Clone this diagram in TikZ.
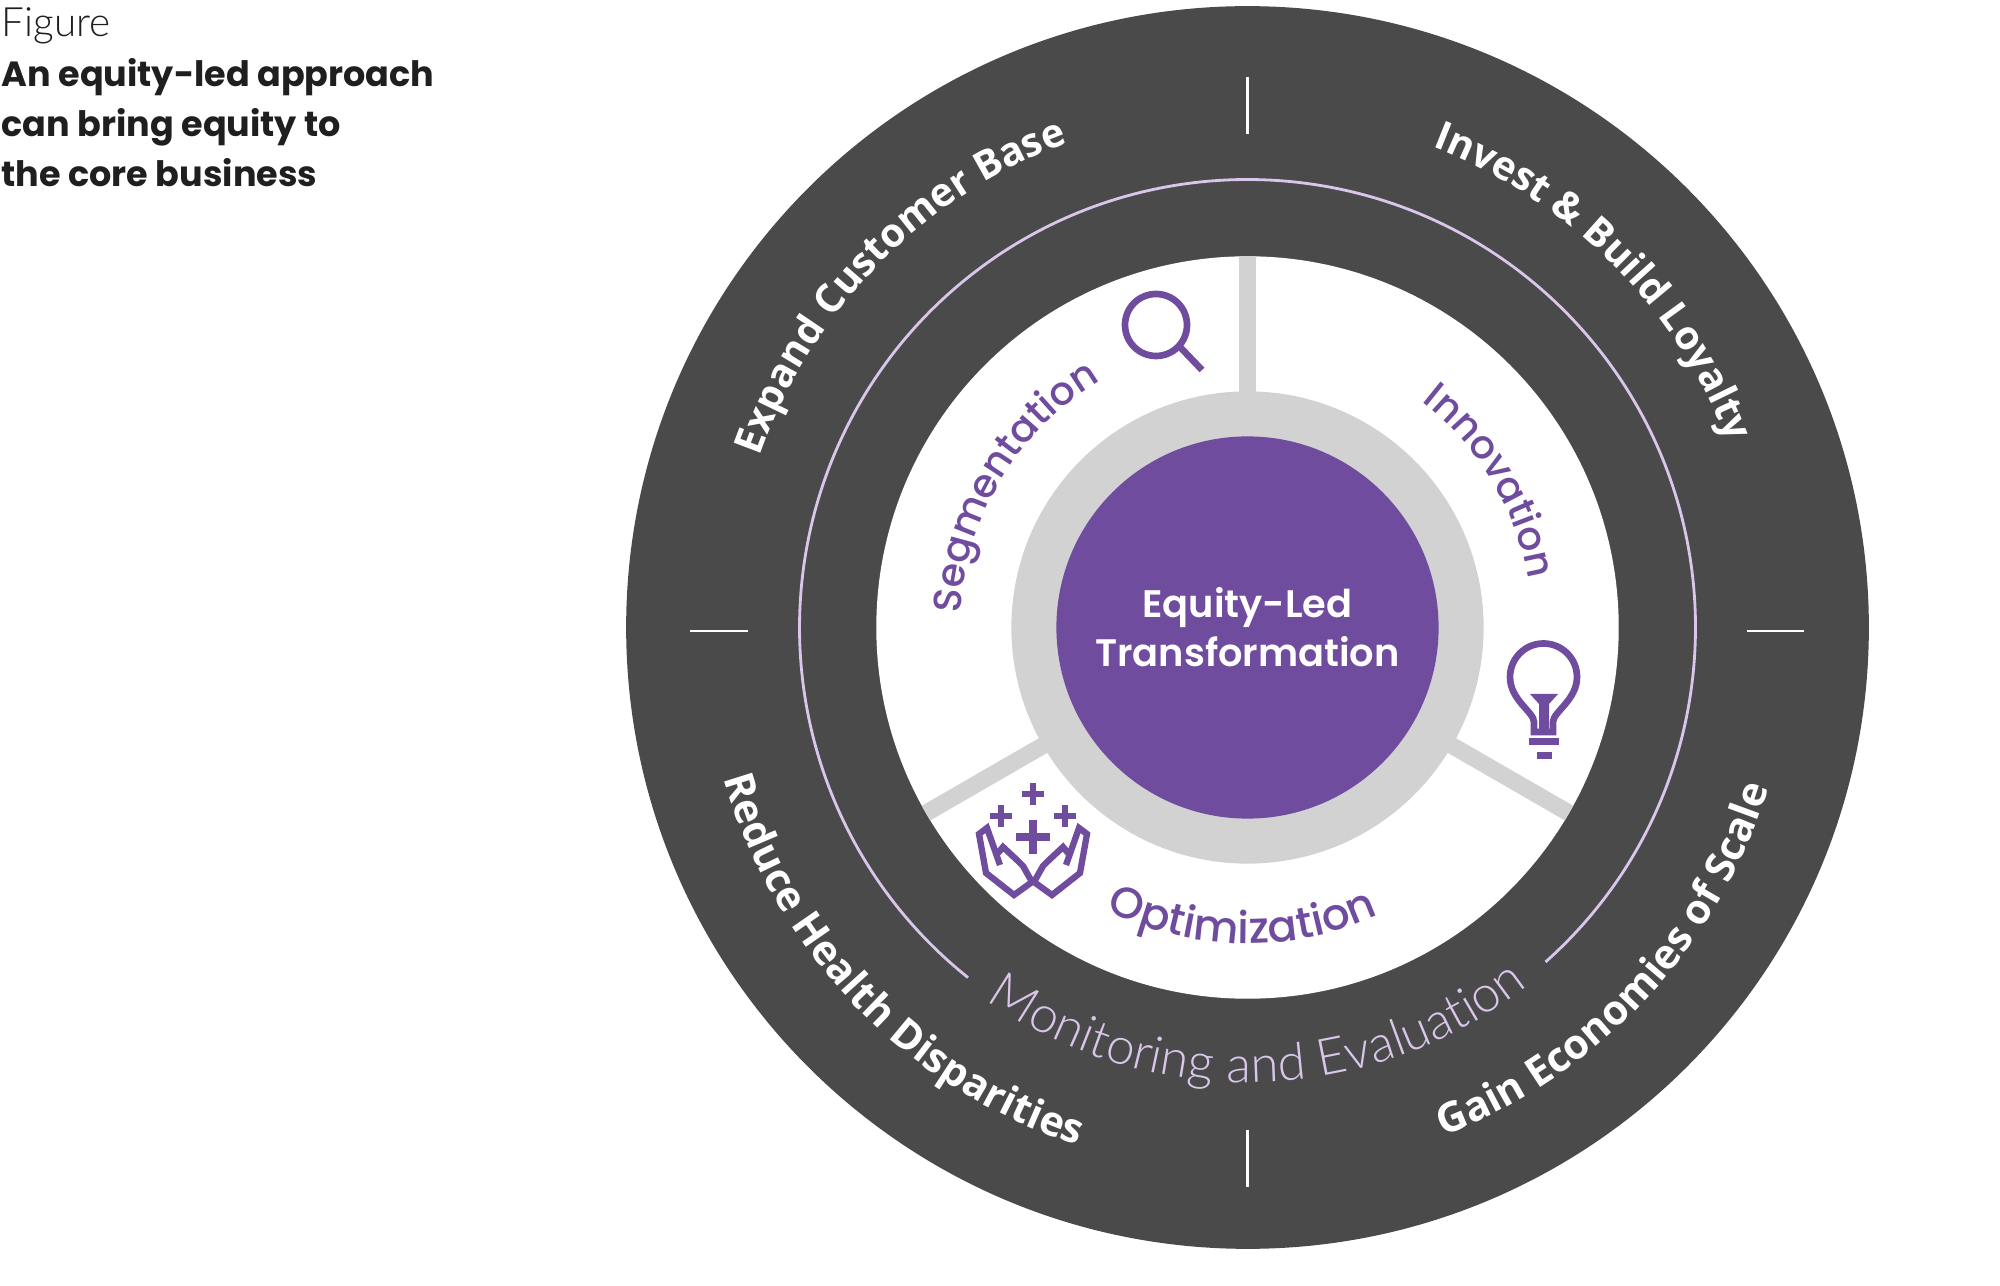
\documentclass[tikz,border=0pt]{standalone}
\usepackage{fontspec}
\setmainfont{Open Sans}
\newfontfamily\lightfont{Lato Light}
\newfontfamily\mediumfont{Poppins Medium}
\newfontfamily\semifont{Poppins SemiBold}
\newfontfamily\headfont{Poppins}[BoldFont={Poppins Bold}]
\usetikzlibrary{decorations.text}
\definecolor{ringdark}{HTML}{4A4A4A}
\definecolor{eqpurple}{HTML}{704C9E}
\definecolor{spokegray}{HTML}{D2D2D2}
\definecolor{ringlilac}{HTML}{D9C6EA}
\newcommand{\ringfont}{\fontsize{11.3}{13}\selectfont\bfseries\color{white}}
\newcommand{\lowringfont}{\fontsize{11.7}{13}\selectfont\bfseries\color{white}}
\newcommand{\pillarfont}{\mediumfont\fontsize{11.2}{14}\selectfont\color{eqpurple}}
\newcommand{\optimfont}{\mediumfont\fontsize{12.4}{14}\selectfont\color{eqpurple}}
\newcommand{\monitorfont}{\lightfont\fontsize{14.5}{16}\selectfont\color{ringlilac}}
\begin{document}
\begin{tikzpicture}[
    x=0.01cm, y=0.01cm,
    disc/.style={circle, inner sep=0pt, outer sep=0pt},
    spoke/.style={draw=spokegray, line width=4.8pt},
    tickmark/.style={draw=white, line width=0.6pt},
    iconline/.style={draw=eqpurple, line width=1.9pt, miter limit=4},
    iconfill/.style={fill=eqpurple},
    plusarm/.style={draw=eqpurple, line width=1.5pt},
    heading/.style={anchor=base west, inner sep=0pt, text=black!88}
]
\useasboundingbox (0,-1286) rectangle (2000,0);

\coordinate (c) at (1247.5,-627.5);

\node[disc, fill=ringdark, minimum size=12.42cm] (outerdisc) at (c) {};
\draw[ringlilac, line width=0.8pt] (c) ++(311.7:448) arc[start angle=311.7, end angle=591.4, radius=448];
\node[disc, fill=white, minimum size=7.42cm] (whitedisc) at (c) {};

\draw[spoke] (c) ++(90:200) -- (whitedisc.90);
\draw[spoke] (c) ++(210:200) -- (whitedisc.210);
\draw[spoke] (c) ++(330:200) -- (whitedisc.330);

\node[disc, fill=spokegray, minimum size=4.72cm] (graydisc) at (c) {};
\node[disc, fill=eqpurple, minimum size=3.82cm, align=center, text=white,
      font=\semifont\fontsize{10.9}{14}\selectfont] (core) at (c) {Equity-Led\\Transformation};

% ticks on the outer ring
\coordinate (tickNa) at (1247.5,-77);
\coordinate (tickNb) at (1247.5,-134);
\coordinate (tickSa) at (1247.5,-1130);
\coordinate (tickSb) at (1247.5,-1187);
\coordinate (tickWa) at (690,-631);
\coordinate (tickWb) at (748,-631);
\coordinate (tickEa) at (1747,-631);
\coordinate (tickEb) at (1804,-631);
\draw[tickmark] (tickNa) -- (tickNb);
\draw[tickmark] (tickSa) -- (tickSb);
\draw[tickmark] (tickWa) -- (tickWb);
\draw[tickmark] (tickEa) -- (tickEb);

% curved labels
\path[decorate, decoration={text along path, text align=center, text={|\ringfont|Expand Customer Base}}]
    (c) ++(195.5:517) arc[start angle=195.5, end angle=75.5, radius=517];
\path[decorate, decoration={text along path, text align=center, text={|\ringfont|Invest {\&} Build Loyalty}}]
    (c) ++(105:515) arc[start angle=105, end angle=-15, radius=515];
\path[decorate, decoration={text along path, text align=center, text={|\lowringfont|Reduce Health Disparities}}]
    (c) ++(164:545) arc[start angle=164, end angle=284, radius=545];
\path[decorate, decoration={text along path, text align=center, text={|\lowringfont|Gain Economies of Scale}}]
    (c) ++(257:545) arc[start angle=257, end angle=377, radius=545];
\path[decorate, decoration={text along path, text align=center, text={|\monitorfont|Monitoring and Evaluation}}]
    (c) ++(211.5:455) arc[start angle=211.5, end angle=331.5, radius=455];
\path[decorate, decoration={text along path, text align=center, text={|\pillarfont|Segmentation}}]
    (c) ++(209:287) arc[start angle=209, end angle=89, radius=287];
\path[decorate, decoration={text along path, text align=center, text={|\pillarfont|Innovation}}]
    (c) ++(91:285) arc[start angle=91, end angle=-29, radius=285];
\path[decorate, decoration={text along path, text align=center, text={|\optimfont|Optimization}}]
    (c) ++(209:316) arc[start angle=209, end angle=329, radius=316];

% magnifier
\draw[iconline] (1156,-325) circle[radius=31];
\draw[iconline] (1180,-347) -- (1202,-370);

% bulb
\draw[iconline] (1534,-732) -- (1534,-722) .. controls (1534,-712) and (1510,-700) .. (1510,-677)
    arc[start angle=180, end angle=0, radius=33.5]
    .. controls (1577,-700) and (1553,-712) .. (1553,-722) -- (1553,-732) -- cycle;
\fill[iconfill] (1530,-694) -- (1558,-694) -- (1549,-704) -- (1549,-732) -- (1539,-732) -- (1539,-704) -- cycle;
\fill[iconfill] (1529,-738) rectangle (1559,-745);
\fill[iconfill] (1537,-752) rectangle (1552,-759);

% hands with plus signs
\draw[plusarm] (1033,-783) -- (1033,-805) (1022,-794) -- (1044,-794);
\draw[plusarm] (1001,-805) -- (1001,-827) (990,-816) -- (1012,-816);
\draw[plusarm] (1065,-805) -- (1065,-827) (1054,-816) -- (1076,-816);
\draw[plusarm, line width=2pt] (1033,-820) -- (1033,-854) (1016,-837) -- (1050,-837);
\draw[iconline, line width=1.8pt] (1000,-865) -- (987,-828) -- (979,-834) -- (986,-873) -- (1014,-895) -- (1032,-882) -- (1023,-866) -- (1018,-861) -- (1003,-847) -- (998,-853);
\draw[iconline, line width=1.8pt] (1066,-865) -- (1079,-828) -- (1087,-834) -- (1080,-873) -- (1052,-895) -- (1034,-882) -- (1043,-866) -- (1048,-861) -- (1063,-847) -- (1068,-853);

% heading
\node[heading, font=\lightfont\fontsize{11.5}{13}\selectfont] (figlabel) at (1,-37) {Figure};
\node[heading, font=\headfont\bfseries\fontsize{9.95}{12}\selectfont] (titlea) at (1,-87) {An equity-led approach};
\node[heading, font=\headfont\bfseries\fontsize{9.95}{12}\selectfont] (titleb) at (1,-137) {can bring equity to};
\node[heading, font=\headfont\bfseries\fontsize{9.95}{12}\selectfont] (titlec) at (1,-187) {the core business};
\end{tikzpicture}
\end{document}
